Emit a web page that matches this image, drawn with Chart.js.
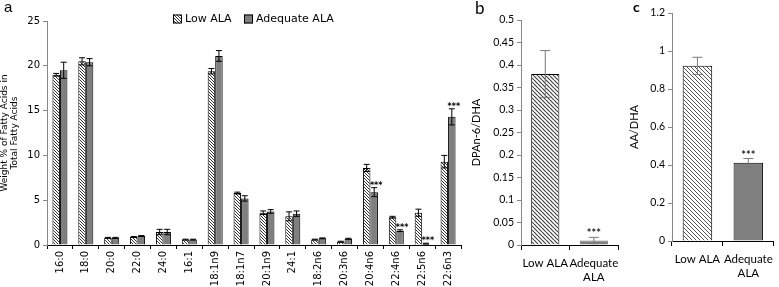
<!DOCTYPE html>
<html>
<head>
<meta charset="utf-8">
<script src="https://cdn.jsdelivr.net/npm/chart.js@4"></script>
<style>
  body { margin: 0; background: #fff; }
  .panel { position: absolute; top: 0; height: 287px; }
  .tag { position: absolute; color: #000; }
</style>
</head>
<body>
<div class="panel" style="left:0;width:465px"><canvas id="ca"></canvas></div>
<div class="panel" style="left:470px;width:155px"><canvas id="cb"></canvas></div>
<div class="panel" style="left:628px;width:151px"><canvas id="cc"></canvas></div>
<div class="tag" style="left:4px;top:-2px;font:15px 'Liberation Sans'">a</div>
<div class="tag" style="left:475px;top:-3px;font:17px Lato">b</div>
<div class="tag" style="left:633px;top:-2px;font:bold 14px Lato">c</div>
<script>
// panel a: fatty acid profile
const acids = ['16:0', '18:0', '20:0', '22:0', '24:0', '16:1', '18:1n9', '18:1n7', '20:1n9', '24:1',
  '18:2n6', '20:3n6', '20:4n6', '22:4n6', '22:5n6', '22:6n3'];
const lowAla = [19.0, 20.5, 0.8, 0.9, 1.45, 0.6, 19.4, 5.8, 3.6, 3.2, 0.6, 0.37, 8.6, 3.1, 3.6, 9.3];
const adeqAla = [19.5, 20.4, 0.8, 1.0, 1.45, 0.6, 21.1, 5.2, 3.75, 3.5, 0.74, 0.7, 5.9, 1.6, 0.15, 14.3];
const lowErr = [0.15, 0.4, 0.05, 0.05, 0.3, 0.05, 0.3, 0.1, 0.2, 0.5, 0.05, 0.05, 0.4, 0.1, 0.4, 0.7];
const adeqErr = [0.9, 0.4, 0.05, 0.05, 0.3, 0.05, 0.6, 0.3, 0.2, 0.3, 0.05, 0.05, 0.5, 0.1, 0.05, 0.9];
const adeqSig = ['', '', '', '', '', '', '', '', '', '', '', '', '***', '***', '***', '***'];

// panel b and c: ratios
const groups = ['Low ALA', ['Adequate', 'ALA']];
const dpaDha = [0.38, 0.01];
const dpaDhaErr = [0.052, 0.007];
const aaDha = [0.922, 0.412];
const aaDhaErr = [0.045, 0.022];
const ratioSig = ['', '***'];

function hatch(gap, color, lw) {
  const c = document.createElement('canvas');
  c.width = gap; c.height = gap;
  const g = c.getContext('2d');
  g.fillStyle = '#fff';
  g.fillRect(0, 0, gap, gap);
  g.strokeStyle = color;
  g.lineWidth = lw;
  for (let k = -1; k <= 1; k++) {
    g.beginPath();
    g.moveTo(k * gap, 0);
    g.lineTo(k * gap + gap, gap);
    g.stroke();
  }
  return g.createPattern(c, 'repeat');
}

const errPlugin = {
  id: 'errbars',
  afterDatasetsDraw(chart, args, o) {
    const ctx = chart.ctx, y = chart.scales.y;
    ctx.save();
    chart.data.datasets.forEach((ds, di) => {
      const meta = chart.getDatasetMeta(di);
      const errs = o.errors[di], sig = o.sig[di];
      meta.data.forEach((bar, i) => {
        const v = ds.data[i], e = errs[i];
        const top = y.getPixelForValue(v + e), bot = y.getPixelForValue(Math.max(0, v - e));
        ctx.strokeStyle = o.color;
        ctx.lineWidth = 1;
        ctx.beginPath();
        ctx.moveTo(bar.x, top); ctx.lineTo(bar.x, bot);
        ctx.moveTo(bar.x - o.cap, top); ctx.lineTo(bar.x + o.cap, top);
        ctx.moveTo(bar.x - o.cap, bot); ctx.lineTo(bar.x + o.cap, bot);
        ctx.stroke();
        if (sig && sig[i]) {
          ctx.fillStyle = o.sigColor;
          ctx.font = o.sigFont;
          ctx.textAlign = 'center';
          ctx.textBaseline = 'bottom';
          ctx.fillText(sig[i], bar.x + o.sigDx, top + o.sigDy);
        }
      });
    });
    ctx.restore();
  }
};

const legendPlugin = {
  id: 'boxlegend',
  afterDraw(chart, args, o) {
    if (!o.items) return;
    const ctx = chart.ctx;
    ctx.save();
    ctx.font = o.font;
    ctx.textBaseline = 'middle';
    ctx.textAlign = 'left';
    o.items.forEach(it => {
      ctx.fillStyle = it.fill;
      ctx.fillRect(it.x, o.y - 4.5, 9, 9);
      ctx.strokeStyle = '#000';
      ctx.lineWidth = 1;
      ctx.strokeRect(it.x + 0.5, o.y - 4, 8, 8);
      ctx.fillStyle = '#000';
      ctx.fillText(it.text, it.x + 12, o.y);
    });
    ctx.restore();
  }
};

Chart.register(errPlugin, legendPlugin);

const ctxA = document.getElementById('ca').getContext('2d');
const hatchA = hatch(3, '#333', 1);
const grayA = '#7f7f7f';

new Chart(ctxA, {
  type: 'bar',
  data: {
    labels: acids,
    datasets: [
      { label: 'Low ALA', data: lowAla, backgroundColor: hatchA, borderColor: '#000', borderWidth: 1,
        categoryPercentage: 0.58, barPercentage: 1 },
      { label: 'Adequate ALA', data: adeqAla, backgroundColor: grayA, borderColor: '#000', borderWidth: 1,
        categoryPercentage: 0.58, barPercentage: 1 }
    ]
  },
  options: {
    responsive: true,
    maintainAspectRatio: false,
    animation: false,
    layout: { padding: { top: 21, right: 4, left: 0, bottom: 0 } },
    plugins: {
      legend: { display: false },
      tooltip: { enabled: false },
      errbars: { errors: [lowErr, adeqErr], sig: [null, adeqSig], color: '#000', cap: 3,
        sigColor: '#000', sigFont: 'bold 8px "DejaVu Sans"', sigDx: 2, sigDy: 2 },
      boxlegend: {
        y: 19, font: '11px "DejaVu Sans"',
        items: [{ x: 173, text: 'Low ALA', fill: hatchA }, { x: 244, text: 'Adequate ALA', fill: grayA }]
      }
    },
    scales: {
      x: {
        afterFit(s) { s.height = 42; },
        border: { color: '#000' },
        grid: { drawOnChartArea: false, tickLength: 4, color: '#000' },
        ticks: { minRotation: 90, maxRotation: 90, autoSkip: false, padding: 2,
          color: '#000', font: { family: 'DejaVu Sans', size: 10 } }
      },
      y: {
        min: 0, max: 25,
        afterFit(s) { s.width = 47; },
        border: { color: '#888' },
        grid: { drawOnChartArea: false, tickLength: 4, color: '#888' },
        ticks: { stepSize: 5, padding: 3, color: '#000', font: { family: 'DejaVu Sans', size: 10 } },
        title: { display: true, text: ['Weight % of Fatty Acids in', 'Total Fatty Acids'],
          color: '#000', padding: 0, font: { family: 'DejaVu Sans', size: 9, lineHeight: 1.05 } }
      }
    }
  }
});

function ratioChart(id, values, errs, ytitle, ymax, step, padTop, xh, yw, padRight, hatchFill, borderCols) {
  new Chart(document.getElementById(id).getContext('2d'), {
    type: 'bar',
    data: {
      labels: groups,
      datasets: [{ data: values, backgroundColor: [hatchFill, '#808080'], borderColor: borderCols,
        borderWidth: 1, categoryPercentage: 1, barPercentage: 0.58 }]
    },
    options: {
      responsive: true,
      maintainAspectRatio: false,
      animation: false,
      layout: { padding: { top: padTop, right: padRight, left: 0, bottom: 0 } },
      plugins: {
        legend: { display: false },
        tooltip: { enabled: false },
        errbars: { errors: [errs], sig: [ratioSig], color: '#7a7a7a', cap: 5,
          sigColor: '#222', sigFont: 'bold 11px Lato', sigDx: 0, sigDy: 2 }
      },
      scales: {
        x: {
          afterFit(s) { s.height = xh; },
          border: { color: '#000' },
          grid: { drawOnChartArea: false, tickLength: 5, color: '#000' },
          ticks: { maxRotation: 0, autoSkip: false, padding: 6, color: '#000',
            font: { family: 'Lato', size: 11.5, lineHeight: 1.25 } }
        },
        y: {
          min: 0, max: ymax,
          afterFit(s) { s.width = yw; },
          border: { color: '#888' },
          grid: { drawOnChartArea: false, tickLength: 4, color: '#888' },
          ticks: { stepSize: step, padding: 3, color: '#000', font: { family: 'Lato', size: 10.5 },
            callback: v => String(+v.toFixed(2)) },
          title: { display: true, text: ytitle, color: '#000', padding: 0,
            font: { family: 'Lato', size: 11 } }
        }
      }
    }
  });
}

ratioChart('cb', dpaDha, dpaDhaErr, 'DPAn-6/DHA', 0.5, 0.05, 20, 42, 51, 3,
  hatch(4, '#444', 1.2), ['#000', '#777']);
ratioChart('cc', aaDha, aaDhaErr, 'AA/DHA', 1.2, 0.2, 13, 46, 44, 1,
  hatch(4, '#555', 1), ['#000', '#000']);
</script>
</body>
</html>
